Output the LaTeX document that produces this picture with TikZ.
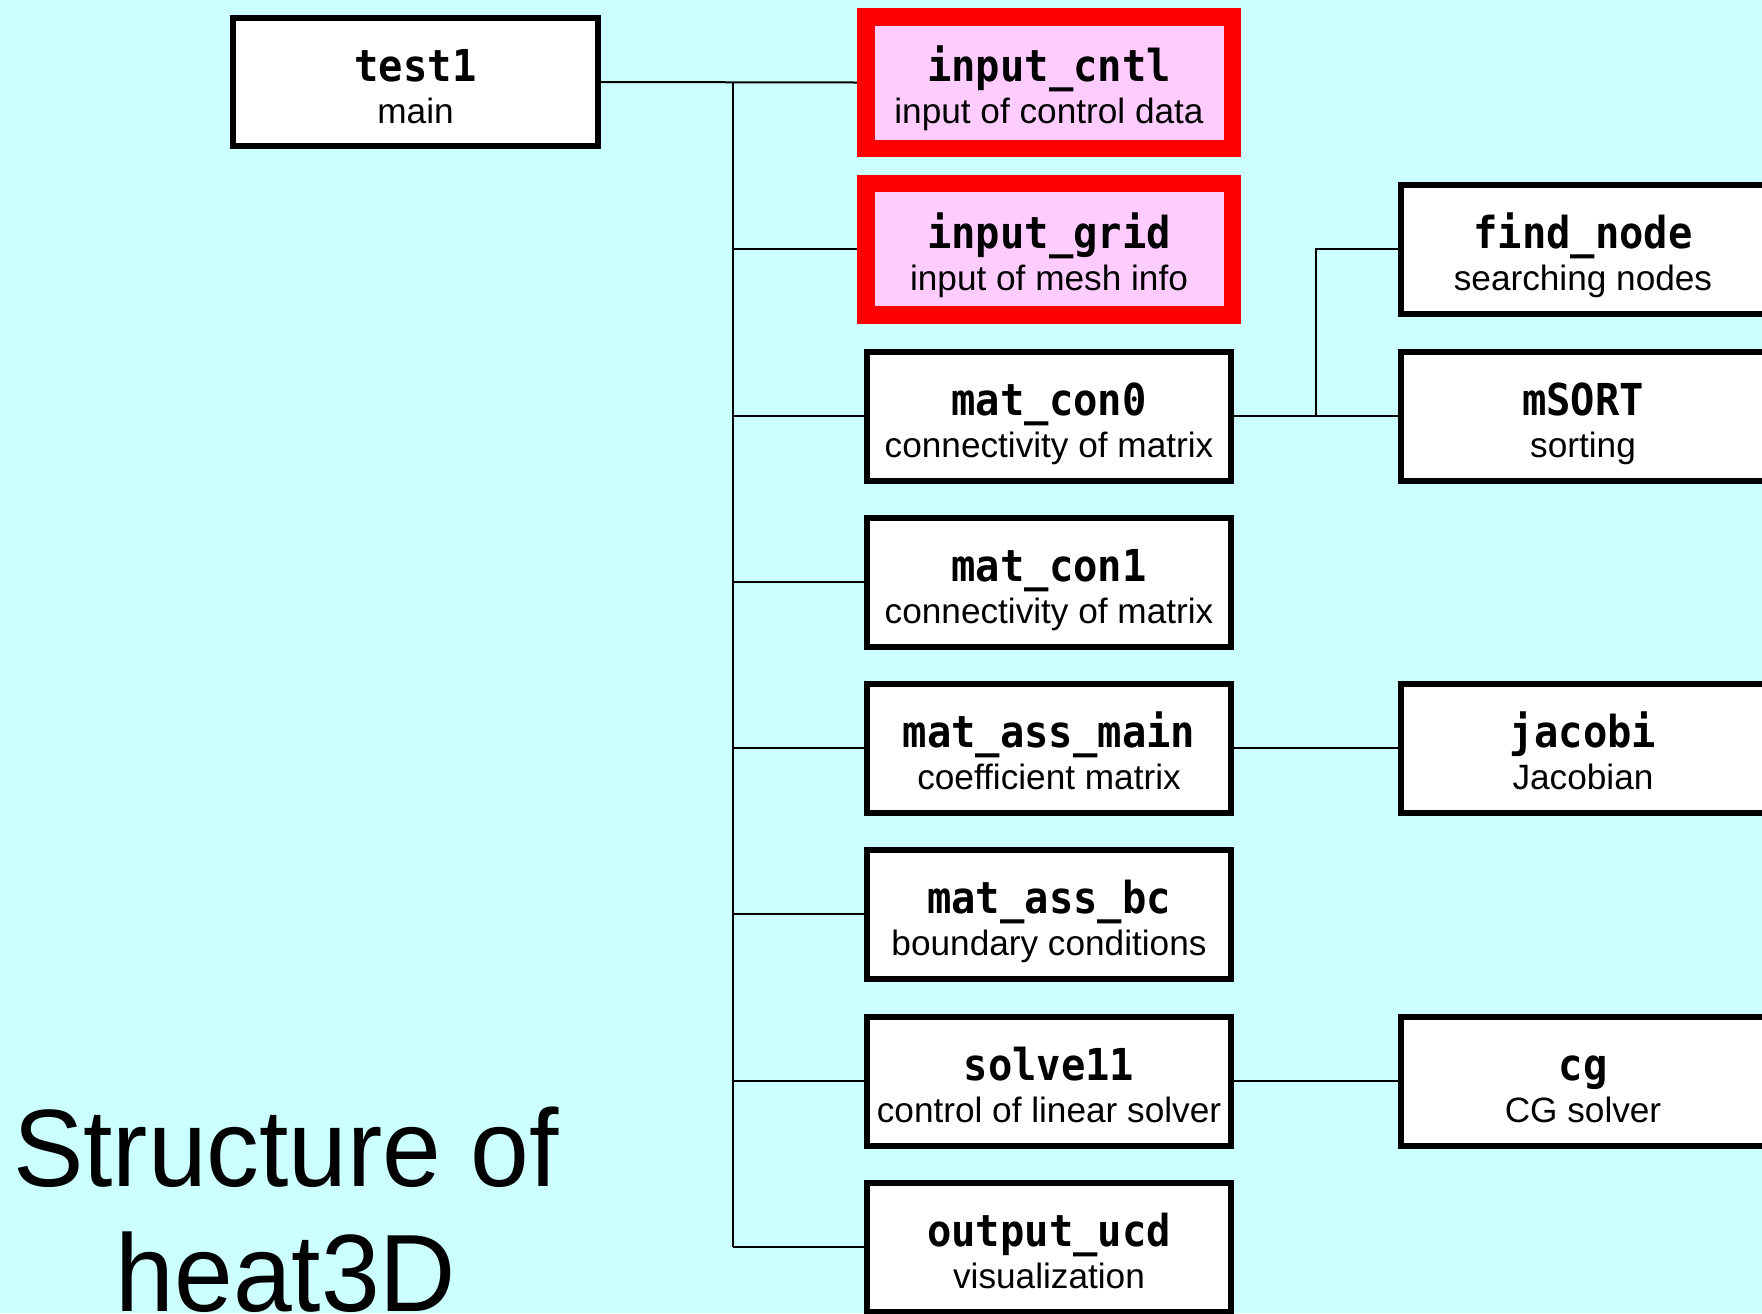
\documentclass[tikz,border=0pt]{standalone}
\usepackage{fontspec}
\setmainfont{Liberation Sans}
\newfontfamily\codefont{DejaVu Sans Mono}[FakeStretch=0.92]
\newfontfamily\titlefont{Liberation Sans}[FakeStretch=0.96]
\usetikzlibrary{backgrounds}
\definecolor{bgcyan}{RGB}{204,255,255}
\definecolor{pinkfill}{RGB}{255,204,255}
\newcommand\mkbox[6]{%
  \node[#4] (#1) at (#2,#3) {};
  \path (#1.center) ++(0,-1) node[titletext] (#1t) {#5};
  \path (#1.center) ++(0,41) node[subtext] (#1s) {#6};
}
\begin{document}
\begin{tikzpicture}[x=0.5pt,y=-0.5pt,
  blackbox/.style={draw=black,line width=3pt,fill=white,minimum width=182pt,minimum height=64.5pt,inner sep=0pt},
  redbox/.style={draw=red,line width=8.75pt,fill=pinkfill,minimum width=183.25pt,minimum height=65.75pt,inner sep=0pt},
  titletext/.style={anchor=base,inner sep=0pt,font=\codefont\bfseries\fontsize{22pt}{22pt}\selectfont},
  subtext/.style={anchor=base,inner sep=0pt,font=\fontsize{17.6pt}{17.6pt}\selectfont},
  link/.style={draw=black,line width=1pt},
  heading/.style={anchor=base,inner sep=0pt,font=\titlefont\fontsize{55pt}{55pt}\selectfont}]
\useasboundingbox (0,0) rectangle (1762,1313);
\clip (0,0) rectangle (1762,1313);
% left
\mkbox{test}{415.5}{82}{blackbox,minimum width=182.5pt,minimum height=64pt}{test1}{main}
% middle column
\mkbox{cntl}{1049}{82.5}{redbox}{input\_cntl}{input of control data}
\mkbox{grid}{1049}{249}{redbox}{input\_grid}{input of mesh info}
\mkbox{conA}{1049}{416}{blackbox}{mat\_con0}{connectivity of matrix}
\mkbox{conB}{1049}{582}{blackbox}{mat\_con1}{connectivity of matrix}
\mkbox{assm}{1049}{748}{blackbox}{mat\_ass\_main}{coefficient matrix}
\mkbox{assb}{1049}{914}{blackbox}{mat\_ass\_bc}{boundary conditions}
\mkbox{solv}{1049}{1081}{blackbox}{solve11}{control of linear solver}
\mkbox{outp}{1049}{1247}{blackbox}{output\_ucd}{visualization}
% right column
\mkbox{find}{1583}{249}{blackbox}{find\_node}{searching nodes}
\mkbox{msrt}{1583}{416}{blackbox}{mSORT}{sorting}
\mkbox{jaco}{1583}{748}{blackbox}{jacobi}{Jacobian}
\mkbox{cgso}{1583}{1081}{blackbox}{cg}{CG solver}
% heading
\node[heading] (headA) at (286,1186) {Structure of};
\node[heading] (headB) at (286,1311) {heat3D};
\begin{scope}[on background layer]
  \fill[bgcyan] (0,0) rectangle (1762,1313);
  \coordinate (trunkTop) at (733,82);
  \coordinate (trunkBot) at (733,1247);
  \coordinate (forkTop) at (1316,249);
  \coordinate (forkBot) at (1316,416);
  \draw[link] (test.east) -- (cntl.west);
  \draw[link] (trunkTop) -- (trunkBot);
  \draw[link] (trunkTop |- grid.west) -- (grid.west);
  \draw[link] (trunkTop |- conA.west) -- (conA.west);
  \draw[link] (trunkTop |- conB.west) -- (conB.west);
  \draw[link] (trunkTop |- assm.west) -- (assm.west);
  \draw[link] (trunkTop |- assb.west) -- (assb.west);
  \draw[link] (trunkTop |- solv.west) -- (solv.west);
  \draw[link] (trunkBot) -- (outp.west);
  \draw[link] (conA.east) -- (msrt.west);
  \draw[link] (forkBot) -- (forkTop) -- (find.west);
  \draw[link] (assm.east) -- (jaco.west);
  \draw[link] (solv.east) -- (cgso.west);
\end{scope}
\end{tikzpicture}
\end{document}
